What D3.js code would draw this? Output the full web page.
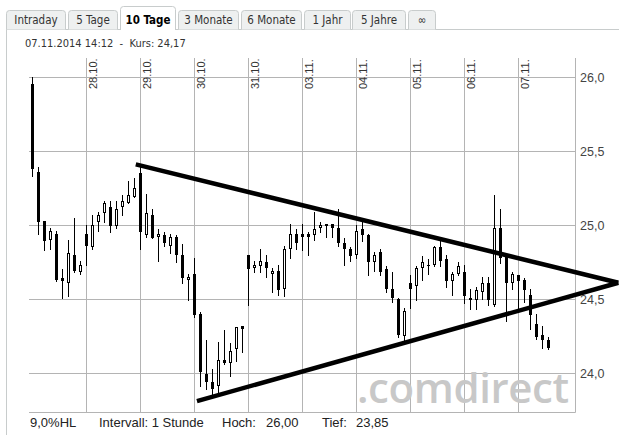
<!DOCTYPE html>
<html><head><meta charset="utf-8">
<script src="https://cdn.jsdelivr.net/npm/d3@7"></script>
<style>
body{margin:0;background:#fff;}
svg{display:block;}
.cond{font-family:'DejaVu Sans Condensed','DejaVu Sans',sans-serif;font-stretch:condensed;}
.ar{font-family:'Liberation Sans',Arial,sans-serif;}
</style></head><body>
<svg id="c" width="619" height="435"></svg>
<script>
// ---------- DATA ----------
const tabs = ["Intraday","5 Tage","10 Tage","3 Monate","6 Monate","1 Jahr","5 Jahre","\u221E"];
const activeTab = "10 Tage";
const days = ["27.10.","28.10.","29.10.","30.10.","31.10.","03.11.","04.11.","05.11.","06.11.","07.11."];
const hours = ["09:00","10:00","11:00","12:00","13:00","14:00","15:00","16:00","17:00"];
const yTicks = [24.0, 24.5, 25.0, 25.5, 26.0];
const stamp = "07.11.2014 14:12";
const intervalLabel = "Intervall: 1 Stunde";

const open = [25.95,25.36,25.03,24.90,24.94,24.64,24.61,24.80,24.68,
 24.94,24.85,25.02,25.08,25.12,24.99,25.12,25.15,25.19,
 25.35,24.93,25.07,24.92,24.93,24.86,24.92,24.80,24.63,
 24.67,24.40,23.99,23.94,23.91,24.09,24.07,24.16,24.32,
 24.80,24.71,24.72,24.75,24.67,24.69,24.57,24.84,24.94,
 24.94,24.94,24.93,24.98,24.99,25.01,24.98,24.88,24.84,
 24.80,24.97,24.93,24.75,24.82,24.70,24.57,24.50,24.25,
 24.61,24.59,24.71,24.73,24.73,24.85,24.77,24.62,24.67,
 24.68,24.51,24.49,24.55,24.61,24.46,24.98,24.79,24.61,
 24.66,24.63,24.53,24.33,24.26,24.22];
const high = [26.00,25.39,25.03,24.98,24.96,24.70,24.90,25.05,24.76,
 25.00,25.07,25.09,25.16,25.16,25.16,25.20,25.30,25.32,
 25.41,25.21,25.11,24.97,24.95,24.94,24.93,24.87,24.67,
 24.78,24.41,24.22,24.03,24.21,24.29,24.20,24.31,24.32,
 24.80,24.76,24.84,24.80,24.71,24.73,24.86,25.01,24.97,
 25.01,24.95,25.09,25.02,25.01,25.01,25.11,24.91,24.85,
 25.00,25.02,24.94,24.82,24.84,24.72,24.68,24.51,24.44,
 24.66,24.72,24.79,24.77,24.86,24.91,24.80,24.68,24.75,
 24.73,24.57,24.58,24.65,24.65,25.20,25.11,24.80,24.68,
 24.66,24.64,24.57,24.40,24.32,24.24];
const low = [25.33,24.94,24.83,24.84,24.62,24.51,24.52,24.68,24.67,
 24.73,24.84,24.96,25.02,24.95,24.98,25.07,25.15,25.19,
 24.84,24.92,24.91,24.76,24.86,24.81,24.75,24.61,24.49,
 24.38,23.91,23.89,23.85,23.86,24.06,23.98,24.08,24.14,
 24.46,24.68,24.68,24.65,24.55,24.53,24.52,24.78,24.84,
 24.83,24.80,24.90,24.95,24.92,24.92,24.86,24.73,24.76,
 24.78,24.89,24.66,24.69,24.66,24.55,24.48,24.24,24.21,
 24.44,24.49,24.63,24.67,24.72,24.72,24.58,24.53,24.66,
 24.47,24.43,24.43,24.50,24.46,24.45,24.74,24.35,24.57,
 24.44,24.48,24.30,24.23,24.17,24.16];
const close = [25.38,25.02,24.89,24.96,24.63,24.62,24.81,24.69,24.73,
 24.86,25.00,25.07,25.15,24.99,25.11,25.16,25.20,25.25,
 24.95,25.08,24.91,24.94,24.88,24.92,24.80,24.64,24.65,
 24.39,24.01,23.94,23.89,24.09,24.07,24.15,24.31,24.30,
 24.70,24.73,24.76,24.71,24.69,24.56,24.84,24.94,24.88,
 24.92,24.92,24.97,25.00,25.01,24.98,24.88,24.84,24.79,
 24.96,24.93,24.75,24.80,24.68,24.57,24.51,24.26,24.42,
 24.57,24.71,24.75,24.72,24.85,24.76,24.62,24.67,24.72,
 24.52,24.49,24.56,24.61,24.49,24.98,24.78,24.61,24.67,
 24.62,24.56,24.39,24.24,24.22,24.17];
// trendlines: [candle index, price] endpoints
const upperTrend = [[17.2, 25.41], [97.7, 24.61]];
const lowerTrend = [[27.4, 23.81], [97.7, 24.61]];

// ---------- DERIVED ----------
const categories = days.flatMap(d => hours.map(h => d + " " + h)).slice(0, open.length);
const candles = categories.map((c, i) => ({i, c, o: open[i], h: high[i], l: low[i], cl: close[i]}));
const fmt = (v, n) => v.toFixed(n).replace('.', ',');
const hi = d3.max(high), lo = d3.min(low);

// ---------- LAYOUT ----------
const svg = d3.select("#c");
const L = 29, R = 575, B = 412.5, T = 58;
const x = d3.scaleLinear().domain([0, 90]).range([32.7, 572.2]);
const y = d3.scaleLinear().domain([24, 26]).range([373, 77]);
const gridCol = "#b4b4b4";

// tabs
const tabEdges = [[6,66],[68,118],[120,176],[178,239],[241,302],[304,351],[352,406],[408,436]];
svg.append("line").attr("x1", 6).attr("x2", 619).attr("y1", 29.5).attr("y2", 29.5).attr("stroke", "#c8cccc");
svg.append("line").attr("x1", 6.5).attr("x2", 6.5).attr("y1", 29.5).attr("y2", 435).attr("stroke", "#c8cccc");
const tg = svg.append("g").selectAll("g").data(tabs).join("g");
tg.append("path").attr("d", (t, k) => {
  const [a, b] = tabEdges[k]; const top = t === activeTab ? 6.5 : 10.5;
  const bot = t === activeTab ? 30 : 29.5;
  return `M${a+0.5},${bot}V${top+3}Q${a+0.5},${top} ${a+3.5},${top}H${b-3.5}Q${b-0.5},${top} ${b-0.5},${top+3}V${bot}`;
}).attr("fill", t => t === activeTab ? "#fff" : "#eef0f0").attr("stroke", "#c8cccc");
tg.append("text").attr("class", "cond")
  .attr("x", (t, k) => (tabEdges[k][0] + tabEdges[k][1]) / 2).attr("y", 24)
  .attr("text-anchor", "middle").attr("font-size", 11.5)
  .attr("font-weight", t => t === activeTab ? "bold" : "normal")
  .attr("fill", t => t === activeTab ? "#000" : "#333").text(t => t);

svg.append("text").attr("class", "cond").attr("x", 25).attr("y", 47).attr("font-size", 11)
  .attr("fill", "#333").attr("xml:space", "preserve")
  .text(`${stamp}  -  Kurs: ${fmt(close[close.length - 1], 2)}`);

// grid
svg.append("g").attr("transform", `translate(${R},0)`)
  .call(d3.axisLeft(y).tickValues(yTicks).tickSize(R - L).tickFormat(""))
  .call(g => { g.select(".domain").remove(); g.selectAll("line").attr("stroke", gridCol); });
const dayIdx = d3.range(1, days.length).map(k => k * hours.length);
svg.append("g").selectAll("line").data(dayIdx).join("line")
  .attr("x1", d => Math.floor(x(d)) + 0.5).attr("x2", d => Math.floor(x(d)) + 0.5)
  .attr("y1", T).attr("y2", B).attr("stroke", gridCol);
svg.append("line").attr("x1", L).attr("x2", R + 0.5).attr("y1", B).attr("y2", B).attr("stroke", gridCol);
svg.append("line").attr("x1", R + 0.5).attr("x2", R + 0.5).attr("y1", T).attr("y2", B).attr("stroke", gridCol);

// date labels
svg.append("g").selectAll("text").data(dayIdx).join("text").attr("class", "ar")
  .attr("transform", d => `translate(${Math.floor(x(d)) + 10.5},89) rotate(-90)`)
  .attr("font-size", 11).attr("fill", "#333").text(d => days[d / hours.length]);

// y labels
svg.append("g").attr("transform", `translate(${R},0)`)
  .call(d3.axisRight(y).tickValues(yTicks).tickSize(0).tickPadding(5).tickFormat(d => fmt(d, 1)))
  .call(g => { g.select(".domain").remove();
    g.selectAll("text").attr("class", "ar").attr("font-size", 12.5).attr("fill", "#444").attr("font-family", null); });

// watermark
svg.append("text").attr("x", 357).attr("y", 402.5).attr("font-family", "'Open Sans',sans-serif")
  .attr("font-weight", 600).attr("font-size", 42).attr("letter-spacing", -0.4).attr("fill", "#c8c8c8")
  .text(".comdirect");

// candles
const cg = svg.append("g").selectAll("g").data(candles).join("g");
const cx = d => Math.floor(x(d.i));
cg.append("line").attr("x1", d => cx(d) + 0.5).attr("x2", d => cx(d) + 0.5)
  .attr("y1", d => Math.round(y(d.h))).attr("y2", d => Math.round(y(d.l)) + 1).attr("stroke", "#000");
cg.filter(d => d.cl < d.o).append("rect")
  .attr("x", d => cx(d) - 1).attr("width", 3)
  .attr("y", d => Math.round(y(d.o)))
  .attr("height", d => Math.max(1, Math.round(y(d.cl)) - Math.round(y(d.o))))
  .attr("fill", "#000");
cg.filter(d => d.cl >= d.o).append("rect")
  .attr("x", d => cx(d) - 0.5).attr("width", 2)
  .attr("y", d => Math.round(y(d.cl)) + 0.5)
  .attr("height", d => Math.max(0, Math.round(y(d.o)) - Math.round(y(d.cl)) - 1))
  .attr("fill", "#fff").attr("stroke", "#000");

// trendlines
const line = d3.line().x(p => x(p[0])).y(p => y(p[1]));
svg.append("g").selectAll("path").data([upperTrend, lowerTrend]).join("path")
  .attr("d", line).attr("stroke", "#000").attr("stroke-width", 4.5).attr("fill", "none");

// footer
const foot = svg.append("g").attr("class", "ar").attr("font-size", 13).attr("fill", "#222");
foot.append("text").attr("x", 30).attr("y", 427).text(fmt((hi - lo) / lo * 100, 1) + "%HL");
foot.append("text").attr("x", 99).attr("y", 427).text(intervalLabel);
foot.append("text").attr("x", 222).attr("y", 427).text("Hoch:");
foot.append("text").attr("x", 266).attr("y", 427).text(fmt(hi, 2));
foot.append("text").attr("x", 322).attr("y", 427).text("Tief:");
foot.append("text").attr("x", 356).attr("y", 427).text(fmt(lo, 2));
</script>
</body></html>
